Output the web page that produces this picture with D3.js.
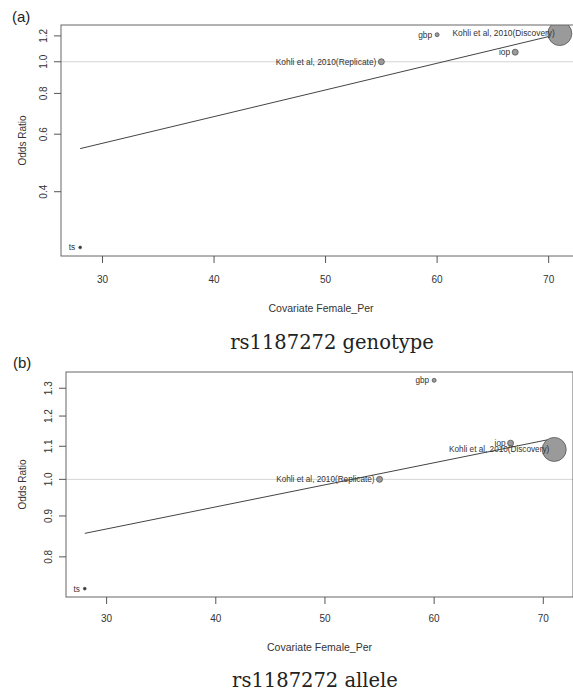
<!DOCTYPE html>
<html><head><meta charset="utf-8">
<script src="https://cdn.jsdelivr.net/npm/d3@7"></script>
<style>body{margin:0;background:#fff} svg{display:block}</style>
</head><body>
<svg id="chart" width="573" height="693"></svg>
<script>
// ---- data ----
const studies = ["ts", "gbp", "iop", "Kohli et al, 2010(Replicate)", "Kohli et al, 2010(Discovery)"];
const femalePer = [28, 60, 67, 55, 71];
const studyWeights = [2, 4, 9, 9, 144];
const orGenotype = [0.27, 1.21, 1.07, 1.0, 1.22];
const orAllele = [0.73, 1.33, 1.11, 1.0, 1.09];
const fitX = [28, 71];
const fitGenotype = [0.542, 1.217];
const fitAllele = [0.856, 1.125];
const xTicks = [30, 40, 50, 60, 70];
const yTicksGenotype = [0.4, 0.6, 0.8, 1.0, 1.2];
const yTicksAllele = [0.8, 0.9, 1.0, 1.1, 1.2, 1.3];
const panelLetters = ["(a)", "(b)"];
const panelTitles = ["rs1187272 genotype", "rs1187272 allele"];
const xLabel = "Covariate Female_Per";
const yLabel = "Odds Ratio";

// ---- layout ----
const layouts = [
  {left: 61, right: 579, top: 25, bottom: 256, letterX: 12, letterY: 22, yTickX: 43.5, yLabX: 22,
   xTickY: 283, xLabY: 311.5, titleX: 332, titleY: 348.5, labelFont: 8.4},
  {left: 66, right: 573, top: 372, bottom: 597, letterX: 13, letterY: 368, yTickX: 48, yLabX: 22,
   xTickY: 622, xLabY: 650.5, titleX: 315, titleY: 687, labelFont: 8.2}
];
const panelData = [
  {or: orGenotype, fit: fitGenotype, yTicks: yTicksGenotype},
  {or: orAllele, fit: fitAllele, yTicks: yTicksAllele}
];

const svg = d3.select("#chart");
const sans = "'Liberation Sans', Arial, sans-serif";
const rScale = d3.scaleSqrt().domain([0, 144]).range([0, 12]);

function padded(lo, hi) { const p = (hi - lo) * 0.04; return [lo - p, hi + p]; }

panelData.forEach((pd, i) => {
  const L = layouts[i];
  const xd = padded(d3.min(femalePer), d3.max(femalePer));
  const x = d3.scaleLinear().domain(xd).range([L.left, L.right]);
  const lnExt = padded(Math.log(d3.min(pd.or)), Math.log(d3.max(pd.or)));
  const y = d3.scaleLog().domain([Math.exp(lnExt[0]), Math.exp(lnExt[1])]).range([L.bottom, L.top]);
  const g = svg.append("g");

  const clipId = "clip" + i;
  svg.append("clipPath").attr("id", clipId).append("rect")
    .attr("x", L.left).attr("y", L.top).attr("width", L.right - L.left).attr("height", L.bottom - L.top);

  // reference line at 1
  g.append("line").attr("x1", L.left).attr("x2", L.right).attr("y1", y(1)).attr("y2", y(1))
    .attr("stroke", "#d4d4d4").attr("stroke-width", 1);

  // regression line
  const line = d3.line().x(d => x(d[0])).y(d => y(d[1]));
  g.append("path").attr("d", line(fitX.map((v, k) => [v, pd.fit[k]])))
    .attr("fill", "none").attr("stroke", "#444").attr("stroke-width", 1);

  // points
  const pts = studies.map((s, k) => ({s, x: femalePer[k], y: pd.or[k], w: studyWeights[k]}));
  g.append("g").attr("clip-path", `url(#${clipId})`).selectAll("circle").data(pts).join("circle")
    .attr("cx", d => x(d.x)).attr("cy", d => y(d.y)).attr("r", d => rScale(d.w))
    .attr("fill", d => d.w < 3 ? "#333" : "#9a9a9a").attr("stroke", "#555").attr("stroke-width", 0.8);

  g.append("g").selectAll("text").data(pts).join("text")
    .attr("x", d => x(d.x) - 5).attr("y", d => y(d.y)).attr("dy", "0.35em")
    .attr("text-anchor", "end").attr("font-family", sans).attr("font-size", L.labelFont)
    .attr("fill", "#333").text(d => d.s);

  // box
  g.append("rect").attr("x", L.left).attr("y", L.top).attr("width", L.right - L.left).attr("height", L.bottom - L.top)
    .attr("fill", "none").attr("stroke", "#666").attr("stroke-width", 1);

  // x axis
  const xa = g.append("g");
  xa.selectAll("line").data(xTicks).join("line")
    .attr("x1", d => x(d)).attr("x2", d => x(d)).attr("y1", L.bottom).attr("y2", L.bottom + 7)
    .attr("stroke", "#555");
  xa.selectAll("text").data(xTicks).join("text")
    .attr("x", d => x(d)).attr("y", L.xTickY).attr("text-anchor", "middle")
    .attr("font-family", sans).attr("font-size", 10).attr("fill", "#333").text(d => d);

  // y axis
  const ya = g.append("g");
  ya.selectAll("line").data(pd.yTicks).join("line")
    .attr("x1", L.left - 7).attr("x2", L.left).attr("y1", d => y(d)).attr("y2", d => y(d))
    .attr("stroke", "#555");
  ya.selectAll("text").data(pd.yTicks).join("text")
    .attr("transform", d => `translate(${L.yTickX},${y(d)}) rotate(-90)`)
    .attr("text-anchor", "middle").attr("dy", "0.35em")
    .attr("font-family", sans).attr("font-size", 10).attr("fill", "#333").text(d => d.toFixed(1));

  // axis labels
  g.append("text").attr("x", (L.left + Math.min(L.right, 573)) / 2 + (i === 0 ? 4 : 0)).attr("y", L.xLabY)
    .attr("text-anchor", "middle").attr("font-family", sans).attr("font-size", 10.5).attr("fill", "#333").text(xLabel);
  g.append("text").attr("transform", `translate(${L.yLabX},${(L.top + L.bottom) / 2}) rotate(-90)`)
    .attr("text-anchor", "middle").attr("dy", "0.35em")
    .attr("font-family", sans).attr("font-size", 10).attr("fill", "#333").text(yLabel);

  // panel letter and title
  g.append("text").attr("x", L.letterX).attr("y", L.letterY)
    .attr("font-family", sans).attr("font-size", 15).attr("fill", "#222").text(panelLetters[i]);
  g.append("text").attr("x", L.titleX).attr("y", L.titleY).attr("text-anchor", "middle")
    .attr("font-family", "'DejaVu Serif', serif").attr("font-size", 19.5).attr("fill", "#222").text(panelTitles[i]);
});
</script>
</body></html>
